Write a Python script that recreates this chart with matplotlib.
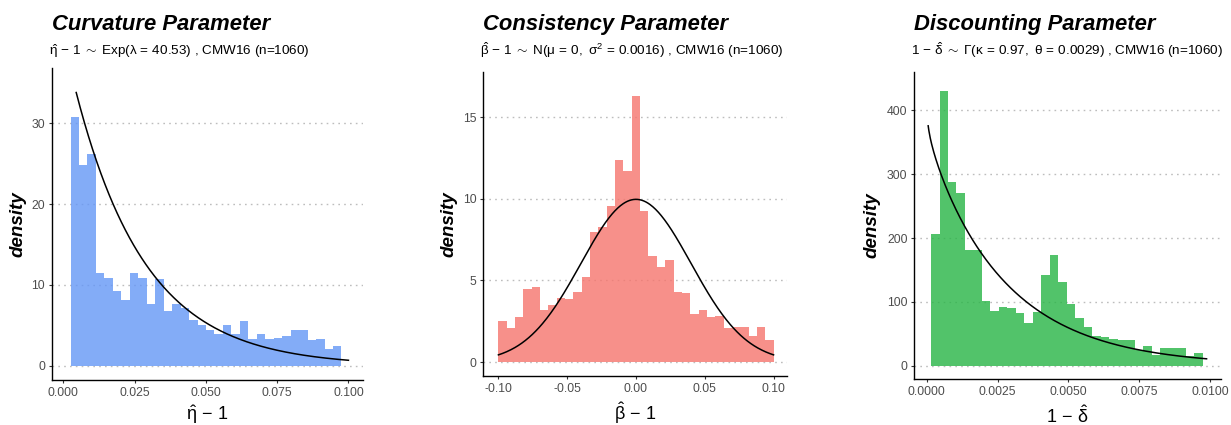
import math
import numpy as np
import matplotlib
matplotlib.use("Agg")
import matplotlib.pyplot as plt

plt.rcParams["font.family"] = ["Liberation Sans", "DejaVu Sans"]
plt.rcParams["mathtext.fontset"] = "custom"
plt.rcParams["mathtext.rm"] = "Liberation Sans"
plt.rcParams["mathtext.it"] = "Liberation Sans:italic"
plt.rcParams["mathtext.bf"] = "Liberation Sans:bold"

# ---- Curvature parameter (eta_hat - 1) ----
curv_bin_start = 0.0025
curv_bin_width = 0.00297
curv_density = [30.8, 24.8, 26.2, 11.5, 10.9, 9.3, 8.1, 11.5, 10.9, 7.7, 10.7,
                6.8, 7.7, 7.2, 5.7, 5.1, 4.4, 3.9, 5.0, 4.0, 5.6, 3.3, 4.0, 3.3,
                3.5, 3.7, 4.4, 4.4, 3.25, 3.3, 2.1, 2.5]
curv_lambda = 40.53
curv_curve_range = (0.0045, 0.100)
curv_xticks = [0.000, 0.025, 0.050, 0.075, 0.100]
curv_xticklabels = ["0.000", "0.025", "0.050", "0.075", "0.100"]
curv_yticks = [0, 10, 20, 30]
curv_yticklabels = ["0", "10", "20", "30"]

# ---- Consistency parameter (beta_hat - 1) ----
cons_bin_start = -0.100
cons_bin_width = 0.2 / 33
cons_density = [2.49, 2.07, 2.74, 4.46, 4.60, 3.19, 3.48, 3.93, 3.84, 4.27, 5.24,
                7.95, 8.28, 9.57, 12.39, 11.74, 16.30, 9.24, 6.53, 5.82, 6.27,
                4.27, 4.22, 2.94, 3.18, 2.78, 2.82, 2.10, 2.12, 2.12, 1.61, 2.12,
                1.35]
cons_mu = 0.0
cons_var = 0.0016
cons_curve_range = (-0.100, 0.100)
cons_xticks = [-0.10, -0.05, 0.00, 0.05, 0.10]
cons_xticklabels = ["-0.10", "-0.05", "0.00", "0.05", "0.10"]
cons_yticks = [0, 5, 10, 15]
cons_yticklabels = ["0", "5", "10", "15"]

# ---- Discounting parameter (1 - delta_hat) ----
disc_bin_start = 0.00015
disc_bin_width = 0.0003
disc_density = [207, 430, 288, 271, 180.6, 180.6, 101, 85, 91.5, 90.5, 83.3,
                67.7, 83.9, 142.5, 172.8, 131, 96.7, 74.5, 60, 47, 45.5, 42.5,
                40, 40, 24, 31, 16.2, 27, 28.5, 28.2, 16, 19.3]
disc_kappa = 0.97
disc_theta = 0.0029
disc_curve_range = (0.00005, 0.00988)
disc_xticks = [0.0000, 0.0025, 0.0050, 0.0075, 0.0100]
disc_xticklabels = ["0.0000", "0.0025", "0.0050", "0.0075", "0.0100"]
disc_yticks = [0, 100, 200, 300, 400]
disc_yticklabels = ["0", "100", "200", "300", "400"]

W, H = 1231, 425
fig = plt.figure(figsize=(W / 100, H / 100), dpi=100)


def px_axes(left, right, top, bottom):
    return fig.add_axes([left / W, 1 - bottom / H, (right - left) / W, (bottom - top) / H])


def exp_pdf(x, lam):
    return lam * np.exp(-lam * x)


def norm_pdf(x, mu, var):
    return np.exp(-(x - mu) ** 2 / (2 * var)) / np.sqrt(2 * np.pi * var)


def gamma_pdf(x, k, theta):
    return x ** (k - 1) * np.exp(-x / theta) / (math.gamma(k) * theta ** k)


panels = [
    dict(box=(51.7, 362.7, 68.0, 380.3), xlim=(-0.0041, 0.105), ylim=(-1.77, 36.8),
         start=curv_bin_start, width=curv_bin_width, dens=curv_density,
         color="#6497F6", rng=curv_curve_range,
         pdf=lambda x: exp_pdf(x, curv_lambda),
         xt=curv_xticks, xtl=curv_xticklabels, yt=curv_yticks, ytl=curv_yticklabels,
         title="Curvature Parameter",
         sub=(r"$\hat{\mathrm{\eta}}\,-\,1\;\sim\;\mathrm{Exp}(\mathrm{\lambda}\,=\,40.53)$"
              " , CMW16 (n=1060)"),
         xlab=r"$\hat{\mathrm{\eta}}\,-\,1$", ylab_x=18, xlab_y=420),
    dict(box=(483.3, 787.3, 71.7, 375.7), xlim=(-0.111, 0.110), ylim=(-0.84, 17.8),
         start=cons_bin_start, width=cons_bin_width, dens=cons_density,
         color="#F6756D", rng=cons_curve_range,
         pdf=lambda x: norm_pdf(x, cons_mu, cons_var),
         xt=cons_xticks, xtl=cons_xticklabels, yt=cons_yticks, ytl=cons_yticklabels,
         title="Consistency Parameter",
         sub=(r"$\hat{\mathrm{\beta}}\,-\,1\;\sim\;\mathrm{N}(\mathrm{\mu}\,=\,0,\ "
              r"\mathrm{\sigma}^2\,=\,0.0016)$ , CMW16 (n=1060)"),
         xlab=r"$\hat{\mathrm{\beta}}\,-\,1$", ylab_x=449, xlab_y=420),
    dict(box=(914.3, 1221.0, 71.7, 379.3), xlim=(-0.00044, 0.01039), ylim=(-21.3, 460.8),
         start=disc_bin_start, width=disc_bin_width, dens=disc_density,
         color="#27B545", rng=disc_curve_range,
         pdf=lambda x: gamma_pdf(x, disc_kappa, disc_theta),
         xt=disc_xticks, xtl=disc_xticklabels, yt=disc_yticks, ytl=disc_yticklabels,
         title="Discounting Parameter",
         sub=(r"$1\,-\,\hat{\mathrm{\delta}}\;\sim\;\mathrm{\Gamma}(\mathrm{\kappa}\,=\,0.97,\ "
              r"\mathrm{\theta}\,=\,0.0029)$ , CMW16 (n=1060)"),
         xlab=r"$1\,-\,\hat{\mathrm{\delta}}$", ylab_x=872, xlab_y=423),
]

for p in panels:
    left, right, top, bottom = p["box"]
    ax = px_axes(left, right, top, bottom)
    dens = np.asarray(p["dens"], dtype=float)
    edges = p["start"] + p["width"] * np.arange(len(dens))

    for yv in p["yt"]:
        ax.axhline(yv, color="#BDBDBD", lw=1.0, ls=(0, (1.2, 3.0)), zorder=0)

    ax.bar(edges, dens, width=p["width"], align="edge", color=p["color"],
           alpha=0.8, linewidth=0, zorder=1)

    xs = np.linspace(p["rng"][0], p["rng"][1], 400)
    ax.plot(xs, p["pdf"](xs), color="black", lw=1.1, zorder=2)

    ax.set_xlim(*p["xlim"])
    ax.set_ylim(*p["ylim"])
    ax.set_xticks(p["xt"])
    ax.set_xticklabels(p["xtl"])
    ax.set_yticks(p["yt"])
    ax.set_yticklabels(p["ytl"])
    ax.tick_params(axis="both", length=2.4, width=0.8, color="#333333",
                   labelcolor="#4D4D4D", labelsize=8.8, pad=2.5)
    for side in ("top", "right"):
        ax.spines[side].set_visible(False)
    for side in ("left", "bottom"):
        ax.spines[side].set_linewidth(1.0)
        ax.spines[side].set_color("black")
    ax.set_facecolor("white")

    fig.text(left / W, 1 - 30 / H, p["title"], fontsize=15.8, fontweight="bold",
             fontstyle="italic", ha="left", va="baseline")
    fig.text((left - 3) / W, 1 - 55 / H, p["sub"], fontsize=9.7,
             ha="left", va="baseline")
    fig.text(p["ylab_x"] / W, 1 - (top + bottom) / 2 / H, "density", fontsize=13.5,
             fontweight="bold", fontstyle="italic", rotation=90,
             ha="center", va="center")
    fig.text((left + right) / 2 / W, 1 - p["xlab_y"] / H, p["xlab"], fontsize=13,
             ha="center", va="baseline")

fig.savefig("out.png", dpi=100, facecolor="white")
